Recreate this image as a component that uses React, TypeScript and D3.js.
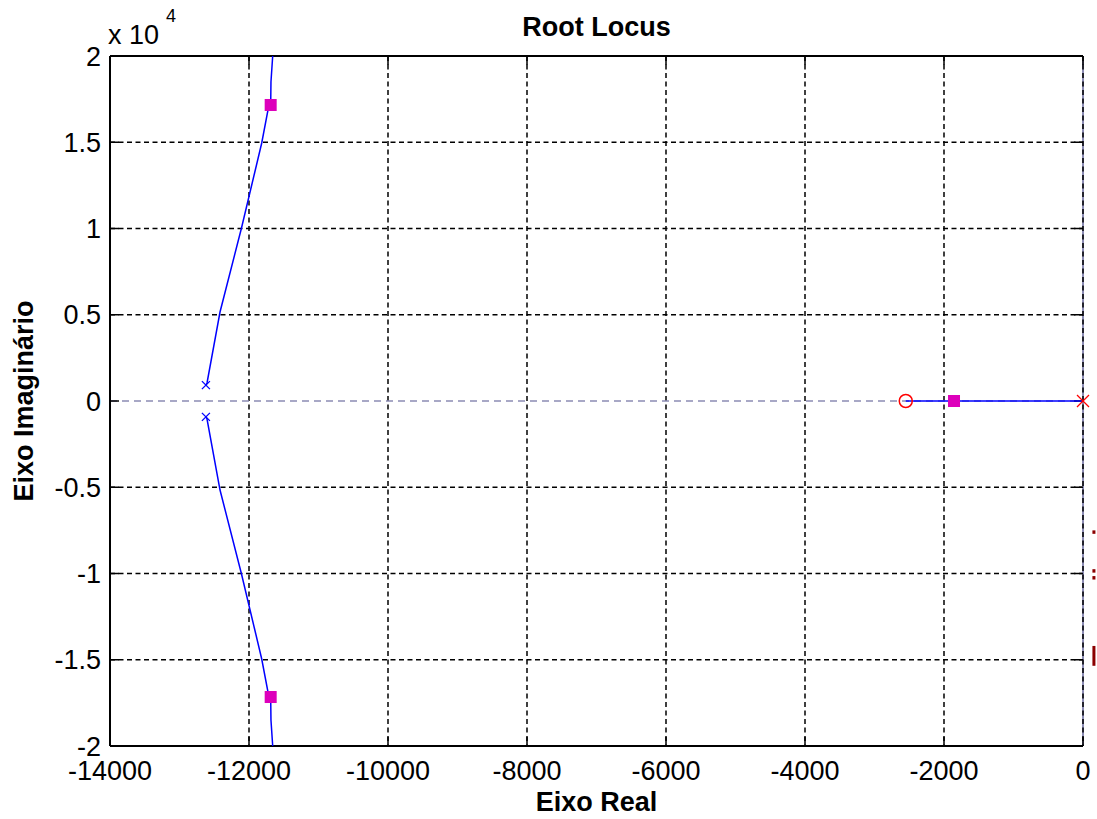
import React from "react";
import * as d3 from "d3";

// Complex-plane root locus data (real part, imaginary part)
const openLoopPoles: [number, number][] = [
  [-12620, 920],
  [-12620, -920],
];
const originPole: [number, number][] = [[0, 0]];
const openLoopZeros: [number, number][] = [[-2550, 0]];

const upperBranch: [number, number][] = [
  [-12620, 920],
  [-12604, 1043],
  [-12417, 5160],
  [-12108, 10029],
  [-11817, 14957],
  [-11727, 16870],
  [-11688, 17160],
  [-11684, 18493],
  [-11659, 20000],
  [-11650, 21000],
];
const lowerBranch: [number, number][] = upperBranch.map(([re, im]) => [re, -im]);
const realBranch: [number, number][] = [
  [-2550, 0],
  [0, 0],
];

// Closed-loop poles at the selected gain
const selectedPoles: [number, number][] = [
  [-11688, 17160],
  [-11688, -17160],
  [-1856, 0],
];

// Fragments of a dark-red annotation that sit just past the right axis edge
const edgeFragments: { re: number; im0: number; im1: number }[] = [
  { re: 150, im0: -7500, im1: -7700 },
  { re: 150, im0: -9750, im1: -9950 },
  { re: 150, im0: -10150, im1: -10350 },
  { re: 150, im0: -14200, im1: -15350 },
];

const xTicks = [-14000, -12000, -10000, -8000, -6000, -4000, -2000, 0];
const yTicks = [-2, -1.5, -1, -0.5, 0, 0.5, 1, 1.5, 2];
const yScaleExp = 4;

const W = 1097;
const H = 819;
const M = { left: 110, right: 1083, top: 56, bottom: 746 };

export default function App() {
  const x = d3.scaleLinear().domain([-14000, 0]).range([M.left, M.right]);
  const y = d3
    .scaleLinear()
    .domain([-2 * 10 ** yScaleExp, 2 * 10 ** yScaleExp])
    .range([M.bottom, M.top]);
  const line = d3
    .line<[number, number]>()
    .x((d) => x(d[0]))
    .y((d) => y(d[1]));

  const font = "'Liberation Sans', Arial, sans-serif";
  const gridDash = "5,3.5";
  const axisGrey = "#8c8cb4";
  const mag = "#dd00bb";

  const xMark = (cx: number, cy: number, s: number, color: string, key: string) => (
    <g key={key} stroke={color} strokeWidth={1.3}>
      <line x1={cx - s} y1={cy - s} x2={cx + s} y2={cy + s} />
      <line x1={cx - s} y1={cy + s} x2={cx + s} y2={cy - s} />
    </g>
  );

  return (
    <svg
      width={W}
      height={H}
      style={{ position: "absolute", left: 0, top: 0, background: "#fff" }}
      fontFamily={font}
    >
      <defs>
        <clipPath id="plotClip">
          <rect x={M.left} y={M.top} width={M.right - M.left} height={M.bottom - M.top} />
        </clipPath>
      </defs>

      {/* grid */}
      <g stroke="#000" strokeWidth={1.5} strokeDasharray={gridDash}>
        {xTicks
          .filter((t) => t !== -14000 && t !== 0)
          .map((t) => (
            <line key={"gx" + t} x1={x(t)} x2={x(t)} y1={M.top} y2={M.bottom} />
          ))}
        {yTicks
          .filter((t) => t !== -2 && t !== 2 && t !== 0)
          .map((t) => (
            <line
              key={"gy" + t}
              x1={M.left}
              x2={M.right}
              y1={y(t * 10 ** yScaleExp)}
              y2={y(t * 10 ** yScaleExp)}
            />
          ))}
      </g>

      {/* zero axes of the s-plane */}
      <line
        x1={M.left}
        x2={M.right}
        y1={y(0)}
        y2={y(0)}
        stroke={axisGrey}
        strokeWidth={1.5}
        strokeDasharray="7,5"
      />
      <line x1={x(0)} x2={x(0)} y1={M.top} y2={M.bottom} stroke={axisGrey} strokeWidth={2} />
      <line
        x1={x(0)}
        x2={x(0)}
        y1={M.top}
        y2={M.bottom}
        stroke="#000"
        strokeWidth={1.5}
        strokeDasharray={gridDash}
      />

      {/* box */}
      <g stroke="#000" strokeWidth={2} fill="none">
        <line x1={M.left} x2={M.right} y1={M.top} y2={M.top} />
        <line x1={M.left} x2={M.right} y1={M.bottom} y2={M.bottom} />
        <line x1={M.left} x2={M.left} y1={M.top} y2={M.bottom} />
      </g>

      {/* ticks */}
      <g stroke="#000" strokeWidth={1.5}>
        {xTicks.map((t) => (
          <g key={"tx" + t}>
            <line x1={x(t)} x2={x(t)} y1={M.bottom} y2={M.bottom - 9} />
            <line x1={x(t)} x2={x(t)} y1={M.top} y2={M.top + 9} />
          </g>
        ))}
        {yTicks.map((t) => (
          <g key={"ty" + t}>
            <line x1={M.left} x2={M.left + 9} y1={y(t * 1e4)} y2={y(t * 1e4)} />
            <line x1={M.right} x2={M.right - 9} y1={y(t * 1e4)} y2={y(t * 1e4)} />
          </g>
        ))}
      </g>

      {/* locus branches */}
      <g clipPath="url(#plotClip)" fill="none" stroke="#0000ff" strokeWidth={1.5}>
        <path d={line(upperBranch) ?? ""} />
        <path d={line(lowerBranch) ?? ""} />
        <path d={line(realBranch) ?? ""} />
      </g>

      {/* poles and zeros */}
      {openLoopPoles.map((p, i) => xMark(x(p[0]), y(p[1]), 4, "#0000ff", "olp" + i))}
      {originPole.map((p, i) => xMark(x(p[0]), y(p[1]), 6, "#ff0000", "op" + i))}
      {openLoopZeros.map((p, i) => (
        <circle
          key={"z" + i}
          cx={x(p[0])}
          cy={y(p[1])}
          r={6.5}
          fill="none"
          stroke="#ff0000"
          strokeWidth={1.5}
        />
      ))}

      {/* selected closed-loop poles */}
      {selectedPoles.map((p, i) => (
        <rect
          key={"sp" + i}
          x={x(p[0]) - 6}
          y={y(p[1]) - 6}
          width={12}
          height={12}
          fill={mag}
        />
      ))}

      {/* annotation fragments */}
      {edgeFragments.map((f, i) => (
        <rect
          key={"ef" + i}
          x={x(f.re) - 1}
          y={y(f.im0)}
          width={3}
          height={Math.max(3, y(f.im1) - y(f.im0))}
          fill="#8b0000"
        />
      ))}

      {/* tick labels */}
      <g fontSize={27} fill="#000">
        {xTicks.map((t) => (
          <text key={"lx" + t} x={x(t)} y={M.bottom + 34} textAnchor="middle">
            {t === 0 ? "0" : "-" + Math.abs(t)}
          </text>
        ))}
        {yTicks.map((t) => (
          <text
            key={"ly" + t}
            x={M.left - 9}
            y={y(t * 1e4)}
            dy="0.36em"
            textAnchor="end"
          >
            {t < 0 ? "-" + Math.abs(t) : String(t)}
          </text>
        ))}
        <text x={M.left - 2} y={44}>
          x 10
        </text>
        <text x={166} y={22} fontSize={18}>
          {yScaleExp}
        </text>
      </g>

      {/* titles */}
      <g fontSize={27} fontWeight="bold" fill="#000" textAnchor="middle">
        <text x={(M.left + M.right) / 2} y={36}>
          Root Locus
        </text>
        <text x={(M.left + M.right) / 2} y={811}>
          Eixo Real
        </text>
        <text transform={`translate(33, ${(M.top + M.bottom) / 2}) rotate(-90)`}>
          Eixo Imaginário
        </text>
      </g>
    </svg>
  );
}
